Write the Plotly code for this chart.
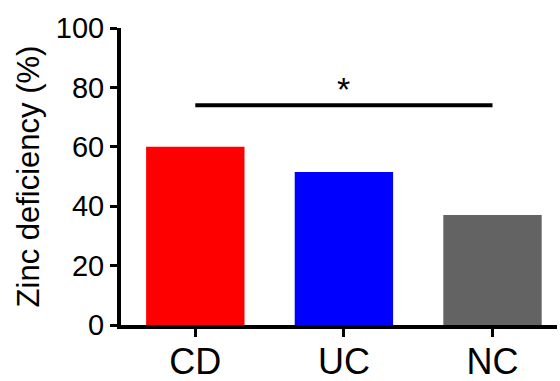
import plotly.graph_objects as go

categories = ["CD", "UC", "NC"]
values = [60.0, 51.5, 37.0]
bar_colors = ["#FF0000", "#0000FF", "#636363"]
y_ticks = [0, 20, 40, 60, 80, 100]
sig_pair = ["CD", "NC"]
sig_level = 74.0
sig_label = "*"
sig_label_at = "UC"
sig_label_level = 72.5

FONT = "Liberation Sans, Arial, sans-serif"

fig = go.Figure()
fig.add_trace(go.Bar(
    x=categories, y=values,
    marker=dict(color=bar_colors, line=dict(width=0)),
    width=0.662,
))
fig.add_trace(go.Scatter(
    x=sig_pair, y=[sig_level, sig_level], mode="lines",
    line=dict(color="black", width=4), hoverinfo="skip",
))
fig.add_annotation(
    x=sig_label_at, y=sig_label_level, text=sig_label, showarrow=False,
    yanchor="bottom", font=dict(family=FONT, size=34, color="black"),
)

fig.update_layout(
    template="none",
    width=560, height=381,
    margin=dict(l=121, r=3, t=28, b=56, autoexpand=False),
    plot_bgcolor="white", paper_bgcolor="white",
    showlegend=False,
    font=dict(family=FONT, color="black"),
)
fig.update_xaxes(
    type="category", range=[-0.5, 2.434], automargin=False,
    showline=True, linecolor="black", linewidth=4,
    ticks="outside", ticklen=8, tickwidth=3, tickcolor="black",
    tickfont=dict(size=36, family=FONT, color="black"),
    ticklabelstandoff=-6,
    showgrid=False, zeroline=False,
)
fig.update_yaxes(
    range=[0, 100], tickvals=y_ticks, automargin=False,
    showline=True, linecolor="black", linewidth=4,
    ticks="outside", ticklen=7, tickwidth=3, tickcolor="black",
    tickfont=dict(size=29, family=FONT, color="black"),
    title=dict(text="Zinc deficiency (%)", font=dict(size=31, family=FONT, color="black"), standoff=8),
    showgrid=False, zeroline=False,
)

fig.write_html(
    "out.html",
    config={"displayModeBar": False},
    post_script="document.body.style.margin='0';document.body.style.overflow='hidden';",
)
